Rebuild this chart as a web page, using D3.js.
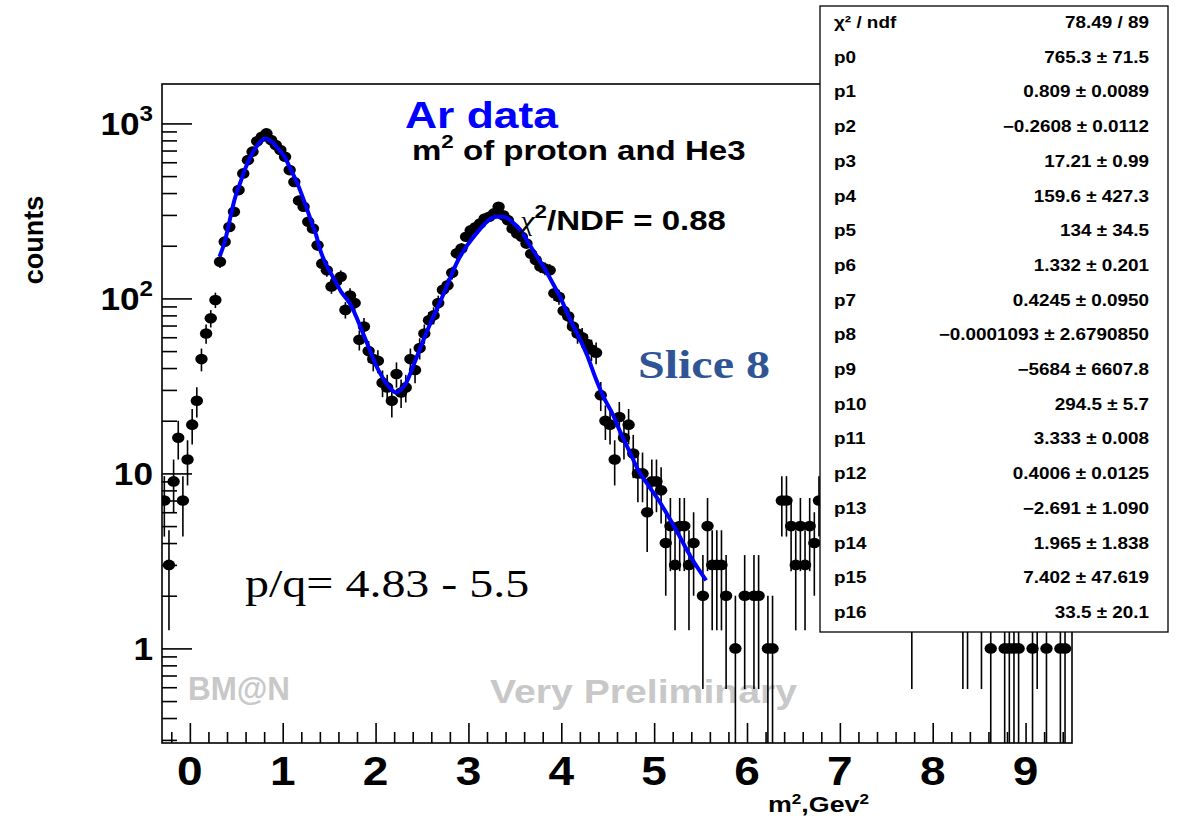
<!DOCTYPE html>
<html>
<head>
<meta charset="UTF-8">
<script src="https://d3js.org/d3.v7.min.js"></script>
<style>
  body { margin: 0; background: #fff; overflow: hidden; }
  text { font-family: "Liberation Sans", Arial, sans-serif; }
  .serif { font-family: "Liberation Serif", "Times New Roman", serif; }
</style>
</head>
<body>
<svg id="chart" width="1179" height="819"></svg>
<script>
// histogram bins: [m^2 bin centre, counts]
const points = [
  [-0.275, 7], [-0.225, 3], [-0.175, 9], [-0.125, 16], [-0.075, 7], [-0.025, 12],
  [0.025, 19], [0.075, 26], [0.125, 45], [0.175, 63], [0.225, 77], [0.275, 98],
  [0.325, 162], [0.375, 211], [0.425, 256], [0.475, 313], [0.525, 416], [0.575, 518],
  [0.625, 617], [0.675, 690], [0.725, 790], [0.775, 840], [0.825, 877], [0.875, 803],
  [0.925, 752], [0.975, 704], [1.025, 645], [1.075, 541], [1.125, 463], [1.175, 363],
  [1.225, 334], [1.275, 274], [1.325, 251], [1.375, 201], [1.425, 158], [1.475, 145],
  [1.525, 117], [1.575, 125], [1.625, 133], [1.675, 86], [1.725, 104], [1.775, 94],
  [1.825, 58], [1.875, 69], [1.925, 50], [1.975, 45], [2.025, 44], [2.075, 33],
  [2.125, 31], [2.175, 26], [2.225, 37], [2.275, 29], [2.325, 31], [2.375, 45],
  [2.425, 39], [2.475, 52], [2.525, 63], [2.575, 75], [2.625, 80], [2.675, 94],
  [2.725, 112], [2.775, 119], [2.825, 140], [2.875, 181], [2.925, 193], [2.975, 225],
  [3.025, 245], [3.075, 255], [3.125, 268], [3.175, 286], [3.225, 293], [3.275, 306],
  [3.325, 334], [3.375, 299], [3.425, 280], [3.475, 251], [3.525, 235], [3.575, 225],
  [3.625, 206], [3.675, 180], [3.725, 166], [3.775, 152], [3.825, 148], [3.875, 145],
  [3.925, 107], [3.975, 102], [4.025, 85], [4.075, 79], [4.125, 69], [4.175, 63],
  [4.225, 60], [4.275, 55], [4.325, 51], [4.375, 49], [4.425, 28], [4.475, 20],
  [4.525, 19], [4.575, 12], [4.625, 21], [4.675, 16], [4.725, 19], [4.775, 13],
  [4.825, 10], [4.875, 10], [4.925, 6], [4.975, 9], [5.025, 9], [5.075, 8],
  [5.125, 4], [5.175, 5], [5.225, 3], [5.275, 5], [5.325, 5], [5.375, 3],
  [5.425, 4], [5.525, 2], [5.575, 5], [5.625, 3], [5.675, 3], [5.725, 3],
  [5.775, 2], [5.875, 1], [5.975, 2], [6.075, 2], [6.125, 2], [6.225, 1],
  [6.275, 1], [6.375, 7], [6.425, 7], [6.475, 5], [6.525, 3], [6.575, 5],
  [6.625, 3], [6.675, 5], [6.725, 4], [6.775, 7], [7.775, 2], [8.325, 2],
  [8.375, 2], [8.525, 2], [8.625, 1], [8.775, 1], [8.825, 1], [8.875, 1],
  [8.925, 1], [9.075, 1], [9.125, 2], [9.225, 1], [9.375, 1], [9.425, 1]
];

// fitted curve
const fitCurve = [
  [0.32, 173], [0.38, 215], [0.43, 280], [0.48, 365], [0.54, 454], [0.59, 541],
  [0.645, 631], [0.72, 740], [0.77, 795], [0.81, 820], [0.875, 790], [0.95, 719],
  [1.02, 644], [1.09, 541], [1.15, 464], [1.22, 373], [1.29, 293], [1.36, 230],
  [1.41, 185], [1.47, 155], [1.54, 133], [1.63, 109], [1.72, 94], [1.79, 79],
  [1.86, 64], [1.93, 52], [2.0, 42], [2.08, 35], [2.15, 31], [2.22, 29],
  [2.27, 30], [2.33, 33], [2.42, 43], [2.51, 57], [2.6, 74], [2.69, 94],
  [2.78, 122], [2.88, 162], [2.99, 202], [3.1, 240], [3.2, 274], [3.29, 293],
  [3.38, 293], [3.47, 274], [3.56, 246], [3.65, 206], [3.74, 173], [3.83, 145],
  [3.92, 119], [4.01, 96], [4.1, 75], [4.19, 60], [4.28, 47], [4.37, 35],
  [4.46, 27], [4.55, 22], [4.63, 17.5], [4.73, 13.5], [4.83, 10.4], [4.94, 8.5],
  [5.05, 7.0], [5.16, 5.6], [5.26, 4.5], [5.4, 3.3], [5.56, 2.45]
];

const xTickValues = [0, 1, 2, 3, 4, 5, 6, 7, 8, 9];
const xTickLabels = ["0", "1", "2", "3", "4", "5", "6", "7", "8", "9"];
const yTickValues = [1, 10, 100, 1000];
const yTickBase = ["1", "10", "10", "10"];
const yTickExp = ["", "", "2", "3"];

const statNames = ["\u03c7\u00b2 / ndf", "p0", "p1", "p2", "p3", "p4", "p5", "p6", "p7", "p8",
  "p9", "p10", "p11", "p12", "p13", "p14", "p15", "p16"];
const statValues = ["78.49 / 89", "765.3  \u00b1 71.5", "0.809  \u00b1 0.0089",
  "\u22120.2608  \u00b1 0.0112", "17.21 \u00b1 0.99", "159.6  \u00b1 427.3", "134  \u00b1 34.5",
  "1.332  \u00b1 0.201", "0.4245  \u00b1 0.0950", "\u22120.0001093  \u00b1 2.6790850",
  "\u22125684  \u00b1 6607.8", "294.5  \u00b1 5.7", "3.333  \u00b1 0.008", "0.4006  \u00b1 0.0125",
  "\u22122.691 \u00b1 1.090", "1.965  \u00b1 1.838", "7.402  \u00b1 47.619", "33.5  \u00b1 20.1"];

const frame = { left: 162, right: 1072, top: 84, bottom: 743 };
const binHalf = 0.025;
const sx = 1.2; // the original picture is stretched horizontally

const svg = d3.select("#chart");
svg.append("rect").attr("width", 1179).attr("height", 819).attr("fill", "#fff");

const x = d3.scaleLinear().domain([-0.3, 9.5]).range([frame.left, frame.right]);
const y = d3.scaleLog().domain([0.288, 1680]).range([frame.bottom, frame.top]);

svg.append("clipPath").attr("id", "clip").append("rect")
  .attr("x", frame.left).attr("y", frame.top)
  .attr("width", frame.right - frame.left).attr("height", frame.bottom - frame.top);

function stretched(g, px, py, str, size, opts = {}) {
  const t = g.append("text")
    .attr("transform", `translate(${px},${py}) scale(${opts.sx || sx},1)`)
    .attr("font-size", size)
    .attr("font-weight", opts.weight || "bold")
    .attr("fill", opts.fill || "#000")
    .attr("text-anchor", opts.anchor || "start");
  if (opts.cls) t.attr("class", opts.cls);
  if (opts.len) t.attr("textLength", opts.len).attr("lengthAdjust", "spacingAndGlyphs");
  return t.text(str);
}

// axes ticks
const minorX = d3.range(-0.2, 9.5, 0.2).filter(v => Math.abs(v - Math.round(v)) > 1e-6);
const minorY = [0.3, 0.4, 0.5, 0.6, 0.7, 0.8, 0.9];
[1, 10, 100].forEach(d => [2, 3, 4, 5, 6, 7, 8, 9].forEach(k => minorY.push(d * k)));

function cleanAxis(sel) {
  sel.select(".domain").remove();
  sel.selectAll("line").attr("stroke", "#000").attr("stroke-width", 1.6);
}
svg.append("g").attr("transform", `translate(0,${frame.bottom})`)
  .call(d3.axisBottom(x).tickValues(xTickValues).tickSize(-20).tickFormat(""))
  .call(cleanAxis);
svg.append("g").attr("transform", `translate(0,${frame.bottom})`)
  .call(d3.axisBottom(x).tickValues(minorX).tickSize(-11).tickFormat(""))
  .call(cleanAxis);
svg.append("g").attr("transform", `translate(${frame.left},0)`)
  .call(d3.axisLeft(y).tickValues(yTickValues).tickSize(-30).tickFormat(""))
  .call(cleanAxis);
svg.append("g").attr("transform", `translate(${frame.left},0)`)
  .call(d3.axisLeft(y).tickValues(minorY).tickSize(-15).tickFormat(""))
  .call(cleanAxis);

// tick labels
xTickValues.forEach((v, i) => {
  stretched(svg, x(v), 785, xTickLabels[i], 40, { anchor: "middle", sx: 1.15 });
});
yTickValues.forEach((v, i) => {
  const t = stretched(svg, 153, y(v) + 12, "", 32, { anchor: "end", sx: 1.1 });
  t.append("tspan").text(yTickBase[i]);
  if (yTickExp[i]) t.append("tspan").attr("font-size", 22).attr("dy", -14).text(yTickExp[i]);
});

// axis titles
svg.append("text")
  .attr("transform", "translate(43,240) rotate(-90)")
  .attr("text-anchor", "middle").attr("font-size", 27).attr("font-weight", "bold")
  .text("counts");
{
  const t = stretched(svg, 768, 812, "", 22, { sx: 1.22 });
  t.append("tspan").text("m");
  t.append("tspan").attr("font-size", 14).attr("dy", -8).text("2");
  t.append("tspan").attr("dy", 8).text(",Gev");
  t.append("tspan").attr("font-size", 14).attr("dy", -8).text("2");
}

// watermark texts
stretched(svg, 188, 700, "BM@N", 33, { fill: "#c8c8c8", sx: 1, len: 102 });
stretched(svg, 490, 703, "Very Preliminary", 34, { fill: "#c8c8c8", sx: 1, len: 307 });

// data: error bars + markers
const plot = svg.append("g").attr("clip-path", "url(#clip)");
const lowY = n => (n - Math.sqrt(n) > 0.288 ? y(n - Math.sqrt(n)) : frame.bottom);

plot.selectAll(".ey").data(points).enter().append("line")
  .attr("x1", d => x(d[0])).attr("x2", d => x(d[0]))
  .attr("y1", d => y(d[1] + Math.sqrt(d[1]))).attr("y2", d => lowY(d[1]))
  .attr("stroke", "#000").attr("stroke-width", 1.6);
plot.selectAll(".ex").data(points).enter().append("line")
  .attr("x1", d => x(d[0] - binHalf)).attr("x2", d => x(d[0] + binHalf))
  .attr("y1", d => y(d[1])).attr("y2", d => y(d[1]))
  .attr("stroke", "#000").attr("stroke-width", 1.6);
plot.selectAll(".pt").data(points).enter().append("ellipse")
  .attr("cx", d => x(d[0])).attr("cy", d => y(d[1]))
  .attr("rx", 6.2).attr("ry", 5.3).attr("fill", "#000");

// fit curve
plot.append("path").datum(fitCurve)
  .attr("fill", "none").attr("stroke", "#0000ff").attr("stroke-width", 4)
  .attr("d", d3.line().x(d => x(d[0])).y(d => y(d[1])).curve(d3.curveMonotoneX));

// frame
svg.append("rect")
  .attr("x", frame.left).attr("y", frame.top)
  .attr("width", frame.right - frame.left).attr("height", frame.bottom - frame.top)
  .attr("fill", "none").attr("stroke", "#000").attr("stroke-width", 1.6);

// titles inside the pad
stretched(svg, 405, 128, "Ar data", 37, { fill: "#0000ff" });
{
  const t = stretched(svg, 412, 160, "", 28, { sx: 1.18 });
  t.append("tspan").text("m");
  t.append("tspan").attr("font-size", 19).attr("dy", -12).text("2");
  t.append("tspan").attr("dy", 12).text(" of proton and He3");
}
{
  const t = stretched(svg, 520, 230, "", 28, { sx: 1.18 });
  t.append("tspan").attr("class", "serif").attr("font-style", "italic").attr("font-weight", "normal").text("\u03c7");
  t.append("tspan").attr("font-size", 19).attr("dy", -12).text("2");
  t.append("tspan").attr("dy", 12).text("/NDF = 0.88");
}
stretched(svg, 638, 378, "Slice 8", 40, { fill: "#2f5597", cls: "serif" });
stretched(svg, 245, 597, "p/q= 4.83 - 5.5", 40, { weight: "normal", cls: "serif" });

// stats box
const box = svg.append("g");
box.append("rect").attr("x", 820).attr("y", 6).attr("width", 348).attr("height", 626)
  .attr("fill", "#fff").attr("stroke", "#000").attr("stroke-width", 1.3);
const rowY = d3.scalePoint().domain(d3.range(statNames.length)).range([28, 618]);
statNames.forEach((name, i) => {
  stretched(box, 834, rowY(i), name, 16, { sx: 1.18 });
  stretched(box, 1149, rowY(i), statValues[i], 16, { sx: 1.18, anchor: "end" });
});
</script>
</body>
</html>
